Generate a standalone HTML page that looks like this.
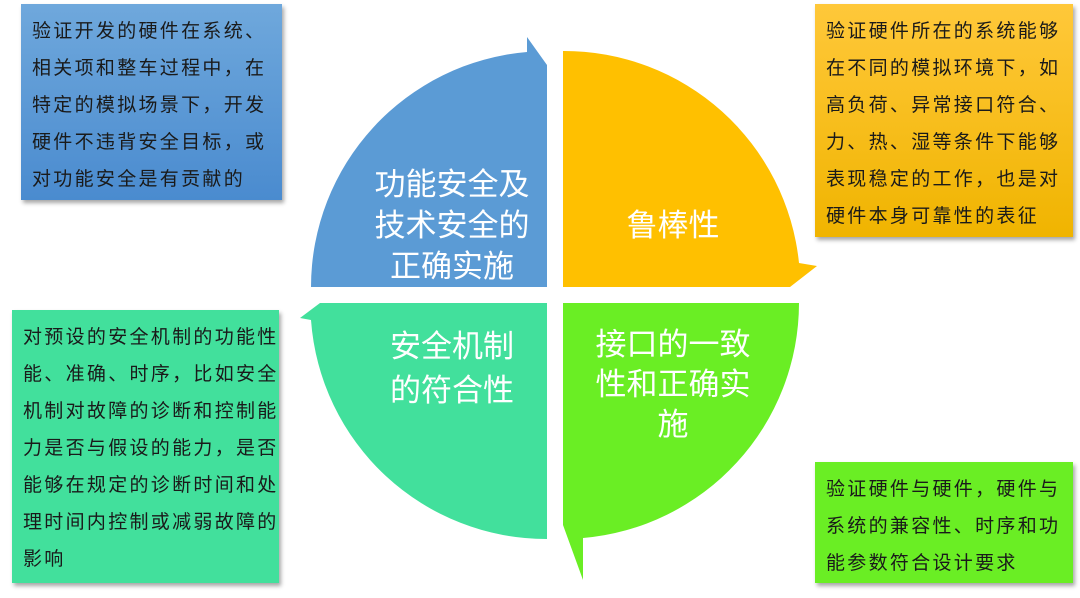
<!DOCTYPE html>
<html><head><meta charset="utf-8"><style>
body{margin:0;width:1080px;height:598px;background:#fff;position:relative;overflow:hidden;font-family:"Liberation Sans","Noto Sans CJK SC",sans-serif}
.box{position:absolute;box-shadow:2px 3px 4px rgba(0,0,0,0.35)}
.box div{position:absolute;left:11px;white-space:nowrap;font-size:19px;letter-spacing:2.3px;color:#1a1a1a;line-height:24px}
svg{position:absolute;left:0;top:0}
</style></head><body>
<svg width="1080" height="598">
<path d="M547,287 L311,287 A236,236 0 0 1 527,52 L527,37 L547,65 Z" fill="#5b9bd5"/>
<path d="M563,287 L563,51 A236,236 0 0 1 799,263 L817,266 L790,287 Z" fill="#ffc000"/>
<path d="M547,303 L547,539 A236,236 0 0 1 311,320 L300,318 L320,303 Z" fill="#42e09c"/>
<path d="M563,303 L799,303 A236,236 0 0 1 583,538 L583,580 L563,525 Z" fill="#6aee24"/>
<g fill="#fff" font-family="Liberation Sans, Noto Sans CJK SC, sans-serif" font-size="31" text-anchor="middle">
<text x="452" y="195">功能安全及</text>
<text x="452" y="236">技术安全的</text>
<text x="452" y="277">正确实施</text>
<text x="673" y="236">鲁棒性</text>
<text x="452" y="357">安全机制</text>
<text x="452" y="401">的符合性</text>
<text x="673" y="355">接口的一致</text>
<text x="673" y="395">性和正确实</text>
<text x="673" y="435">施</text>
</g>
</svg>
<div class="box" style="left:21px;top:4px;width:261px;height:196px;background:linear-gradient(#6fa8dc,#4a8bcf)">
<div style="top:16px">验证开发的硬件在系统、</div>
<div style="top:53px">相关项和整车过程中，在</div>
<div style="top:90px">特定的模拟场景下，开发</div>
<div style="top:127px">硬件不违背安全目标，或</div>
<div style="top:164px">对功能安全是有贡献的</div>
</div>
<div class="box" style="left:815px;top:4px;width:258px;height:233px;background:linear-gradient(#ffc83a,#f0b400)">
<div style="top:16px">验证硬件所在的系统能够</div>
<div style="top:53px">在不同的模拟环境下，如</div>
<div style="top:90px">高负荷、异常接口符合、</div>
<div style="top:127px">力、热、湿等条件下能够</div>
<div style="top:164px">表现稳定的工作，也是对</div>
<div style="top:201px">硬件本身可靠性的表征</div>
</div>
<div class="box" style="left:12px;top:310px;width:267px;height:273px;background:#42e09c">
<div style="top:16px">对预设的安全机制的功能性</div>
<div style="top:53px">能、准确、时序，比如安全</div>
<div style="top:90px">机制对故障的诊断和控制能</div>
<div style="top:127px">力是否与假设的能力，是否</div>
<div style="top:164px">能够在规定的诊断时间和处</div>
<div style="top:201px">理时间内控制或减弱故障的</div>
<div style="top:238px">影响</div>
</div>
<div class="box" style="left:815px;top:462px;width:258px;height:121px;background:#6aee24">
<div style="top:16px">验证硬件与硬件，硬件与</div>
<div style="top:53px">系统的兼容性、时序和功</div>
<div style="top:90px">能参数符合设计要求</div>
</div>
</body></html>
